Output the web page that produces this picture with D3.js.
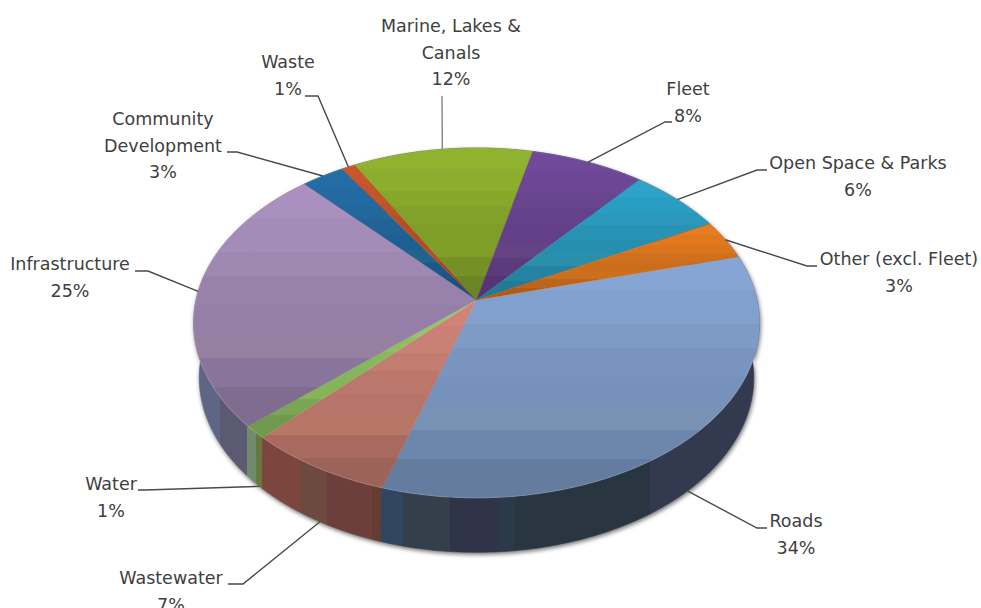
<!DOCTYPE html>
<html><head><meta charset="utf-8">
<script src="https://cdn.jsdelivr.net/npm/d3@7"></script>
<style>html,body{margin:0;padding:0;background:#fff}svg{display:block}text{font-family:"DejaVu Sans";font-size:17.5px;fill:#404040}</style>
</head><body><div id="chart"></div>
<script>
const categories=["Roads","Wastewater","Water","Infrastructure","Community Development","Waste","Marine, Lakes & Canals","Fleet","Open Space & Parks","Other (excl. Fleet)"];
const values=[34.0,7.4,1.2,25.0,2.8,0.9,11.7,7.4,6.2,3.6];
const percentLabels=["34%","7%","1%","25%","3%","1%","12%","8%","6%","3%"];
const faceColors=["#86a5d4","#d08478","#96cc68","#a990bf","#236da6","#c9572c","#8fb32e","#70489a","#2da2c8","#e87c20"];
const labelLines=[["Roads"],["Wastewater"],["Water"],["Infrastructure"],["Community","Development"],["Waste"],["Marine, Lakes &","Canals"],["Fleet"],["Open Space & Parks"],["Other (excl. Fleet)"]];
const sideBreaks=[198,220,247,256,262,300,327,372,381,403,450,500,515,650,762];
const sideColors=["#5e6585","#5c5a72","#6f8a6c","#66783c","#7c463e","#6c4a40","#6c3f3c","#643c32","#2f4560","#33404c","#303448","#2b3a48","#2a3542","#333a4f"];
const bandBreaks=[0,0.14,0.28,0.38,0.5,0.62,0.72,0.84,1];
const bandShade=[0,0.03,0.07,0.10,0.12,0.15,0.19,0.25];
const bandTint=["#000","#000","#181800","#000","#000","#282800","#000","#000"];

const W=981,H=608;
// layout of the perspective disc and the label placement
const cx=476.5,cy=300,a=280.5,b=171.9,k=0.131,depth=54.5,lowerScale=0.98,startDeg=74.9;
const labelCenters=[[796,521],[171,578],[111,484],[70,264],[163,119],[288,62],[451,26],[688,89],[858,163],[899,259]];
const lineGap=26.4;
const elbows=[[[757,528],[767,528]],[[243,584],[228,584]],[[145,490],[138,490]],[[148,271],[135,271]],[[237,152],[227,152]],[[318,96],[305,96]],[[442,96],[442,96]],[[665,122],[672,122]],[[757,170],[767,170]],[[807,266],[817,266]]];

const project=(t,lower=false)=>{const u=Math.sin(t),v=-Math.cos(t),d=1-k*v;
  const x=a*u/d,y=b*v/d;
  return lower?[cx+x*lowerScale,cy+y+depth]:[cx+x,cy+y];};
const start=startDeg*Math.PI/180;
const arcs=d3.pie().sort(null).startAngle(start).endAngle(start+2*Math.PI)(values);
const sample=(s,e)=>{const n=Math.max(2,Math.ceil((e-s)/0.01));return d3.range(n+1).map(i=>s+(e-s)*i/n);};
const line=d3.line();

const svg=d3.select("#chart").append("svg").attr("width",W).attr("height",H);
const defs=svg.append("defs");
defs.append("filter").attr("id","soft").attr("x","-5%").attr("y","-5%").attr("width","110%").attr("height","115%")
  .append("feGaussianBlur").attr("stdDeviation",0.45);
const sideGrad=defs.append("linearGradient").attr("id","side").attr("gradientUnits","userSpaceOnUse")
  .attr("x1",sideBreaks[0]).attr("x2",sideBreaks[sideBreaks.length-1]).attr("y1",0).attr("y2",0);
const xFrac=d3.scaleLinear().domain(d3.extent(sideBreaks)).range([0,1]);
sideColors.forEach((c,i)=>{[sideBreaks[i],sideBreaks[i+1]].forEach(x=>sideGrad.append("stop").attr("offset",xFrac(x)).attr("stop-color",c));});
const bandGrad=defs.append("linearGradient").attr("id","bands").attr("x1",0).attr("x2",0).attr("y1",0).attr("y2",1);
bandShade.forEach((o,i)=>{[bandBreaks[i],bandBreaks[i+1]].forEach(y=>bandGrad.append("stop").attr("offset",y).attr("stop-color",bandTint[i]).attr("stop-opacity",o));});
const discPts=sample(0,2*Math.PI).map(t=>project(t));
const slicePath=d=>line([[cx,cy]].concat(sample(d.startAngle,d.endAngle).map(t=>project(t))))+"Z";

// wall
const wall=svg.append("g").style("filter","drop-shadow(1px 2px 2px rgba(0,0,0,.55))");
wall.append("g").selectAll("path").data(arcs).join("path")
  .attr("d",d=>{const ts=sample(d.startAngle,d.endAngle);
    return line(ts.map(t=>project(t)).concat(ts.slice().reverse().map(t=>project(t,true))))+"Z";})
  .attr("fill","url(#side)").attr("stroke","url(#side)").attr("stroke-width",0.6);

// face
const pie=svg.append("g").attr("filter","url(#soft)");
pie.append("g").selectAll("path").data(arcs).join("path")
  .attr("d",slicePath)
  .attr("fill",(d,i)=>faceColors[i]).attr("stroke",(d,i)=>faceColors[i]).attr("stroke-width",0.4);
pie.append("g").selectAll("path").data(arcs).join("path")
  .attr("d",slicePath).attr("fill","url(#bands)");
pie.append("path").attr("d",line(discPts)+"Z").attr("fill","none").attr("stroke","#fff").attr("stroke-opacity",0.1).attr("stroke-width",1.2);

// leaders
const anchor=d=>{const t=(d.startAngle+d.endAngle)/2;return project(t,-Math.cos(t)>0.15);};
svg.append("g").selectAll("path").data(arcs).join("path")
  .attr("d",(d,i)=>line([anchor(d),...elbows[i]]))
  .attr("fill","none").attr("stroke",(d,i)=>i===6?"#808488":"#4a4a4a").attr("stroke-width",1.4);

// labels
const lab=svg.append("g").selectAll("text").data(categories).join("text").attr("text-anchor","middle");
lab.each(function(c,i){const t=d3.select(this);
  labelLines[i].concat(percentLabels[i]).forEach((s,j)=>{
    t.append("tspan").attr("x",labelCenters[i][0]).attr("y",labelCenters[i][1]+j*lineGap).attr("dy","0.35em").text(s);});});
</script></body></html>
